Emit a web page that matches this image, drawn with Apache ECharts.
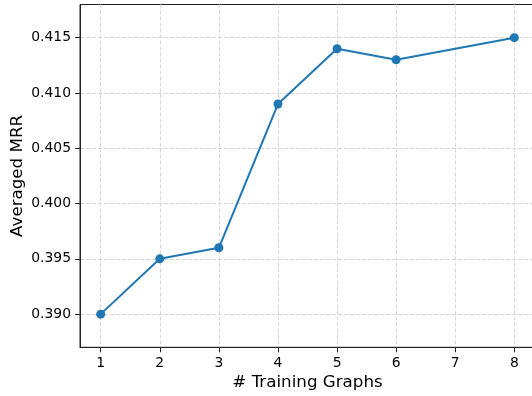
<!DOCTYPE html>
<html>
<head>
<meta charset="utf-8">
<script src="https://cdn.jsdelivr.net/npm/echarts@6/dist/echarts.min.js"></script>
<style>html,body{margin:0;padding:0;background:#fff}#c{width:532px;height:396px}</style>
</head>
<body>
<div id="c"></div>
<script>
const xValues = [1, 2, 3, 4, 5, 6, 8];
const mrrValues = [0.390, 0.395, 0.396, 0.409, 0.414, 0.413, 0.415];
const xTicks = [1, 2, 3, 4, 5, 6, 7, 8];
const yTicks = [0.390, 0.395, 0.400, 0.405, 0.410, 0.415];

const chart = echarts.init(document.getElementById('c'), null, {renderer: 'canvas'});
const font = 'DejaVu Sans';
const gridLine = {show: true, lineStyle: {color: '#d3d3d3', width: 0.9, type: [4, 2]}};
chart.setOption({
  animation: false,
  backgroundColor: '#fff',
  grid: {left: 80, top: 4.5, width: 455, height: 342.8, containLabel: false, outerBoundsMode: 'none',
         show: true, borderColor: '#222', borderWidth: 1, backgroundColor: 'transparent'},
  xAxis: {
    type: 'value', min: 0.65, max: 8.35,
    name: '# Training Graphs', nameLocation: 'middle', nameGap: 27, nameMoveOverlap: false,
    nameTextStyle: {fontFamily: font, fontSize: 16.7, color: '#000'},
    axisLine: {show: true, onZero: false, lineStyle: {color: '#222', width: 1}},
    axisTick: {show: true, length: 5, lineStyle: {color: '#222', width: 1}, customValues: xTicks},
    axisLabel: {fontFamily: font, fontSize: 13.9, color: '#000', margin: 9, customValues: xTicks,
                formatter: v => String(v)},
    splitLine: Object.assign({customValues: xTicks}, gridLine)
  },
  yAxis: {
    type: 'value', min: 0.387, max: 0.418,
    name: 'Averaged MRR', nameLocation: 'middle', nameGap: 54, nameMoveOverlap: false,
    nameTextStyle: {fontFamily: font, fontSize: 16.7, color: '#000'},
    axisLine: {show: true, onZero: false, lineStyle: {color: '#222', width: 1}},
    axisTick: {show: true, length: 5, lineStyle: {color: '#222', width: 1}, customValues: yTicks},
    axisLabel: {fontFamily: font, fontSize: 13.9, color: '#000', margin: 9, customValues: yTicks,
                formatter: v => v.toFixed(3)},
    splitLine: Object.assign({customValues: yTicks}, gridLine)
  },
  series: [{
    type: 'line',
    data: xValues.map((x, i) => [x, mrrValues[i]]),
    symbol: 'circle', symbolSize: 9,
    lineStyle: {color: '#1f77b4', width: 2},
    itemStyle: {color: '#1f77b4'},
    clip: false
  }]
});
</script>
</body>
</html>
